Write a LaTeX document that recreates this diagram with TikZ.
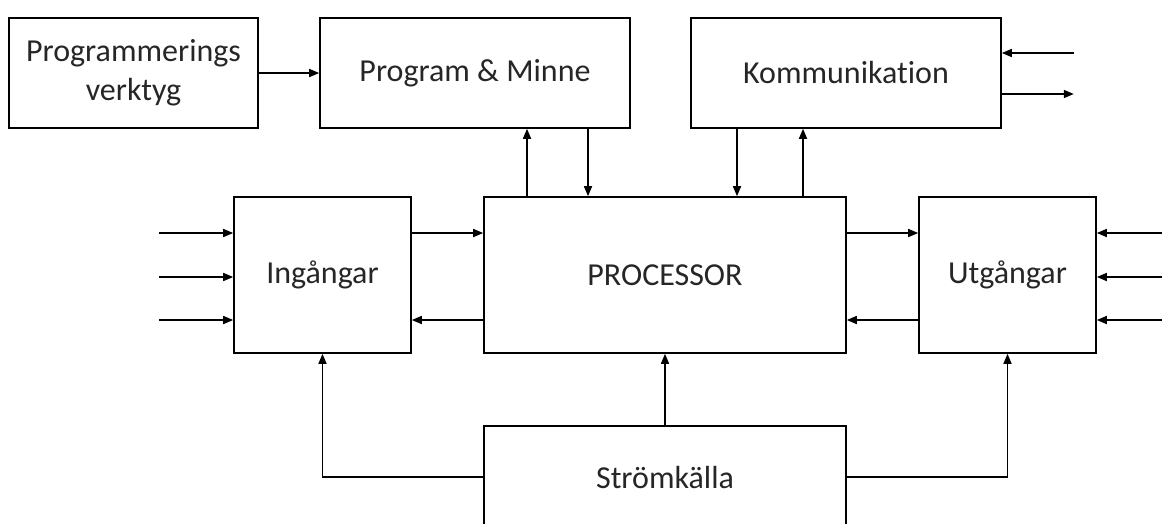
\documentclass[tikz,border=0pt]{standalone}
\usepackage{fontspec}
\setmainfont{Carlito}[Ligatures={NoCommon}]
\usetikzlibrary{arrows.meta}
\tikzset{
  blk/.style={draw=black, line width=1.6pt, inner sep=0pt, align=center, font=\fontsize{32}{39}\selectfont, text=black!85},
  conn/.style={line width=1.6pt, -{Triangle[length=10pt,width=8pt]}}
}
\begin{document}
\begin{tikzpicture}[x=1pt,y=-1pt]
\useasboundingbox (0,0) rectangle (1162,523);
\node[blk, minimum width=249pt, minimum height=110pt] (prog) at (133.5,73) {Programmerings\\verktyg};
\node[blk, minimum width=310pt, minimum height=110pt] (mem) at (475,73) {Program \& Minne};
\node[blk, minimum width=310pt, minimum height=110pt] (comm) at (846,73) {Kommunikation};
\node[blk, minimum width=177pt, minimum height=156pt] (in) at (322.5,275) {Ingångar};
\node[blk, minimum width=362pt, minimum height=156pt] (cpu) at (665,275) {PROCESSOR};
\node[blk, minimum width=177pt, minimum height=156pt] (out) at (1007.5,275) {Utgångar};
\node[blk, minimum width=362pt, minimum height=130pt] (pwr) at (665,491) {\raisebox{3pt}[0pt][0pt]{Strömkälla}};
% programming tool to memory
\draw[conn] (prog.east) -- (mem.west);
% memory <-> processor
\draw[conn] ([xshift=-138pt]cpu.north) -- ([xshift=-138pt]cpu.north |- mem.south);
\draw[conn] ([xshift=-77pt]cpu.north |- mem.south) -- ([xshift=-77pt]cpu.north);
% communication <-> processor
\draw[conn] ([xshift=72pt]cpu.north |- comm.south) -- ([xshift=72pt]cpu.north);
\draw[conn] ([xshift=138pt]cpu.north) -- ([xshift=138pt]cpu.north |- comm.south);
% communication external
\draw[conn] ([xshift=72pt,yshift=20pt]comm.east) -- ([yshift=20pt]comm.east);
\draw[conn] ([yshift=-21pt]comm.east) -- ([xshift=72pt,yshift=-21pt]comm.east);
% inputs
\draw[conn] ([xshift=-74pt,yshift=42pt]in.west) -- ([yshift=42pt]in.west);
\draw[conn] ([xshift=-74pt,yshift=-2pt]in.west) -- ([yshift=-2pt]in.west);
\draw[conn] ([xshift=-74pt,yshift=-45pt]in.west) -- ([yshift=-45pt]in.west);
\draw[conn] ([yshift=42pt]in.east) -- ([yshift=42pt]cpu.west);
\draw[conn] ([yshift=-45pt]cpu.west) -- ([yshift=-45pt]in.east);
% outputs
\draw[conn] ([yshift=42pt]cpu.east) -- ([yshift=42pt]out.west);
\draw[conn] ([yshift=-45pt]out.west) -- ([yshift=-45pt]cpu.east);
\draw[conn] ([xshift=72pt,yshift=42pt]out.east) -- ([yshift=42pt]out.east);
\draw[conn] ([xshift=72pt,yshift=-2pt]out.east) -- ([yshift=-2pt]out.east);
\draw[conn] ([xshift=72pt,yshift=-45pt]out.east) -- ([yshift=-45pt]out.east);
% power
\draw[conn] (pwr.north) -- (cpu.south);
\draw[conn] ([yshift=14pt]pwr.west) -| (in.south);
\draw[conn] ([yshift=14pt]pwr.east) -| (out.south);
\end{tikzpicture}
\end{document}
